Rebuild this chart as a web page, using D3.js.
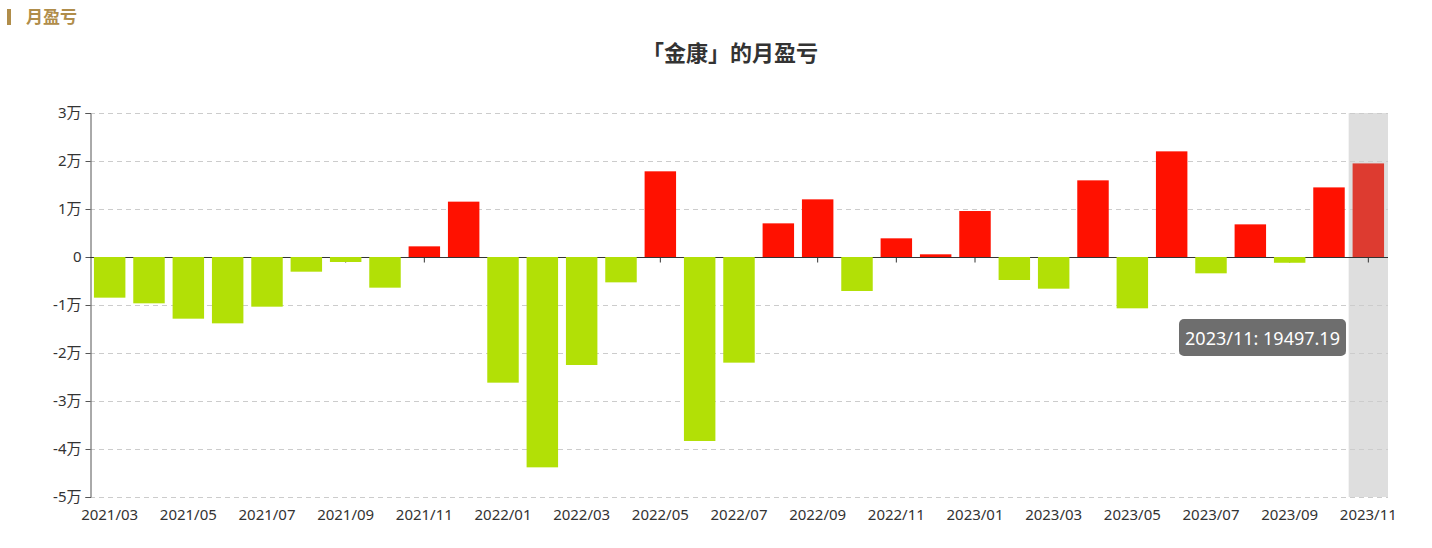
<!DOCTYPE html>
<html><head><meta charset="utf-8">
<script src="https://cdn.jsdelivr.net/npm/d3@7"></script>
<style>
html,body{margin:0;padding:0;background:#fff;}
svg{display:block;font-family:"Noto Sans","Noto Sans CJK SC",sans-serif;}
</style></head><body>
<svg id="c" width="1432" height="548"></svg>
<script>
const months = ["2021/03","2021/04","2021/05","2021/06","2021/07","2021/08","2021/09","2021/10","2021/11","2021/12",
"2022/01","2022/02","2022/03","2022/04","2022/05","2022/06","2022/07","2022/08","2022/09","2022/10","2022/11","2022/12",
"2023/01","2023/02","2023/03","2023/04","2023/05","2023/06","2023/07","2023/08","2023/09","2023/10","2023/11"];
const profit = [-8470,-9650,-12850,-13820,-10350,-3060,-1040,-6390,2220,11530,
-26180,-43820,-22500,-5280,17850,-38330,-22010,7010,12010,-7080,3890,560,
9580,-4790,-6600,15970,-10690,22010,-3400,6800,-1200,14500,19497.19];
const yTicks = [30000,20000,10000,0,-10000,-20000,-30000,-40000,-50000];
const yTickLabels = ["3万","2万","1万","0","-1万","-2万","-3万","-4万","-5万"];
const highlighted = "2023/11";

(function(){
const svg = d3.select("#c");
const L = 90, R = 1388, T = 113, B = 497;
const x = d3.scaleBand().domain(months).range([L, R]).padding(0);
const y = d3.scaleLinear().domain([-50000, 30000]).range([B, T]);
const bw = x.bandwidth();

// header
svg.append("rect").attr("x",7).attr("y",9).attr("width",4).attr("height",16).attr("fill","#b08d4a");
svg.append("text").attr("x",26).attr("y",23).attr("font-size",17).attr("font-weight","bold")
  .attr("font-family","Noto Sans CJK SC").attr("fill","#b08d4a").text("月盈亏");

// title
svg.append("text").attr("x",730).attr("y",61).attr("text-anchor","middle").attr("font-size",22)
  .attr("font-weight","bold").attr("font-family","Noto Sans CJK SC").attr("fill","#333").text("「金康」的月盈亏");

// highlight shadow
svg.append("rect").attr("x",x(highlighted)).attr("y",T).attr("width",bw).attr("height",B-T).attr("fill","#dedede");

// grid
svg.append("g").selectAll("line").data(yTicks.filter(d=>d!==0)).join("line")
  .attr("x1",L).attr("x2",R).attr("y1",d=>y(d)+0.5).attr("y2",d=>y(d)+0.5)
  .attr("stroke","#ccc").attr("stroke-dasharray","5,4");

// y axis
const yAxis = d3.axisLeft(y).tickValues(yTicks).tickSize(5).tickPadding(4)
  .tickFormat((d,i)=>yTickLabels[i]);
const gy = svg.append("g").attr("transform",`translate(${L+0.5},0)`).call(yAxis);
gy.select(".domain").attr("stroke","#555");
gy.selectAll(".tick line").attr("stroke","#555");
gy.selectAll(".tick text").attr("fill","#333").attr("font-size",15).attr("font-family","Noto Sans, Noto Sans CJK SC, sans-serif");

// x axis at zero
const labelMonths = months.filter((d,i)=>i%2===0);
const xAxis = d3.axisBottom(x).tickValues(labelMonths).tickSize(5).tickFormat("");
const gx = svg.append("g").attr("transform",`translate(0,${y(0)+0.5})`).call(xAxis);
gx.select(".domain").attr("stroke","#333").attr("d",`M${L},0H${R}`);
gx.selectAll(".tick line").attr("stroke","#333");

// x labels at bottom
svg.append("g").selectAll("text").data(labelMonths).join("text")
  .attr("x",d=>x(d)+bw/2).attr("y",520).attr("text-anchor","middle")
  .attr("font-size",15).attr("fill","#333").text(d=>d);

// bars
svg.append("g").selectAll("rect").data(months).join("rect")
  .attr("x",d=>x(d)+bw*0.1).attr("width",bw*0.8)
  .attr("y",(d,i)=>y(Math.max(0,profit[i])))
  .attr("height",(d,i)=>Math.abs(y(profit[i])-y(0)))
  .attr("fill",(d,i)=> d===highlighted ? "#dd3b30" : (profit[i]>=0 ? "#ff1100" : "#b2e006"));

// tooltip
const hi = months.indexOf(highlighted);
const tipText = `${highlighted}: ${profit[hi].toFixed(2)}`;
const tg = svg.append("g");
tg.append("rect").attr("x",1179).attr("y",319).attr("width",167).attr("height",37).attr("rx",5)
  .attr("fill","#6e6e6e");
tg.append("text").attr("x",1262.5).attr("y",345).attr("text-anchor","middle").attr("font-size",18)
  .attr("fill","#fff").text(tipText);
})();
</script>
</body></html>
